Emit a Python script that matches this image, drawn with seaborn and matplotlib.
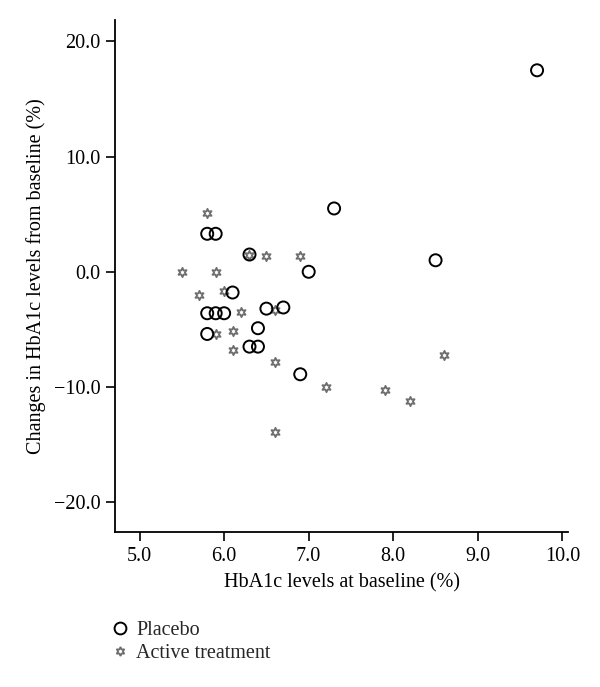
import matplotlib
matplotlib.use("Agg")
import matplotlib.pyplot as plt
import seaborn as sns
import pandas as pd
from matplotlib.lines import Line2D

# Data
placebo_x = [9.7, 7.3, 8.5, 7.0, 5.8, 5.9, 6.3, 6.1, 5.8, 5.9, 6.0, 6.5, 6.7, 6.4, 5.8, 6.3, 6.4, 6.9]
placebo_y = [17.5, 5.5, 1.0, 0.0, 3.3, 3.3, 1.5, -1.8, -3.6, -3.6, -3.6, -3.2, -3.1, -4.9, -5.4, -6.5, -6.5, -8.9]

active_x = [5.8, 6.5, 6.9, 5.5, 5.9, 5.7, 6.0, 6.2, 6.6, 5.9, 6.1, 6.1, 6.6, 7.2, 7.9, 8.2, 8.6, 6.6, 6.3]
active_y = [5.1, 1.4, 1.4, 0.0, 0.0, -2.0, -1.7, -3.5, -3.3, -5.4, -5.1, -6.8, -7.8, -10.0, -10.3, -11.2, -7.2, -13.9, 1.5]

x_ticks = [5.0, 6.0, 7.0, 8.0, 9.0, 10.0]
y_ticks = [-20.0, -10.0, 0.0, 10.0, 20.0]

x_label = "HbA1c levels at baseline (%)"
y_label = "Changes in HbA1c levels from baseline (%)"
legend_labels = ["Placebo", "Active treatment"]

sns.set_theme(style="white")
plt.rcParams["font.family"] = ["Liberation Serif", "DejaVu Serif"]

FS = 14.5

fig = plt.figure(figsize=(6.0, 6.87), dpi=100)
ax = fig.add_axes([0.1917, 0.2256, 0.755, 0.745])

star = (6, 1, 0)
df_a = pd.DataFrame({"x": active_x, "y": active_y})
df_p = pd.DataFrame({"x": placebo_x, "y": placebo_y})

sns.scatterplot(data=df_a, x="x", y="y", ax=ax, marker=star, s=45,
                facecolor="white", edgecolor="#6e6e6e", linewidth=1.3, zorder=3)
sns.scatterplot(data=df_p, x="x", y="y", ax=ax, marker="o", s=75,
                facecolor="none", edgecolor="black", linewidth=1.4, zorder=4)

ax.set_xlim(4.71, 10.066)
ax.set_ylim(-22.6, 21.85)
ax.set_xticks(x_ticks)
ax.set_xticklabels([f"{v:.1f}" for v in x_ticks])
ax.set_yticks(y_ticks)
ax.set_yticklabels([f"{v:.1f}".replace("-", "\u2212") for v in y_ticks])

for s in ["top", "right"]:
    ax.spines[s].set_visible(False)
for s in ["left", "bottom"]:
    ax.spines[s].set_color("black")
    ax.spines[s].set_linewidth(1.3)

ax.tick_params(axis="both", direction="out", length=6.5, width=1.2, color="black",
               labelsize=FS, labelcolor="black", left=True, bottom=True)
ax.tick_params(axis="y", pad=4)
ax.tick_params(axis="x", pad=4)
ax.set_xlabel(x_label, fontsize=FS, color="black")
ax.set_ylabel(y_label, fontsize=FS, color="black")
ax.xaxis.set_label_coords(0.5, -0.080)
ax.yaxis.set_label_coords(-0.153, 0.5)
ax.grid(False)

handles = [
    Line2D([], [], linestyle="none", marker="o", markersize=8.5,
           markerfacecolor="none", markeredgecolor="black", markeredgewidth=1.4),
    Line2D([], [], linestyle="none", marker=star, markersize=6.5,
           markerfacecolor="white", markeredgecolor="#6e6e6e", markeredgewidth=1.3),
]
fig.legend(handles, legend_labels, loc="upper left", bbox_to_anchor=(0.17, 0.108),
           frameon=False, fontsize=FS, handlelength=1.0, handletextpad=0.3,
           labelspacing=0.22, borderaxespad=0.0)

fig.savefig("out.png", dpi=100, facecolor="white")
